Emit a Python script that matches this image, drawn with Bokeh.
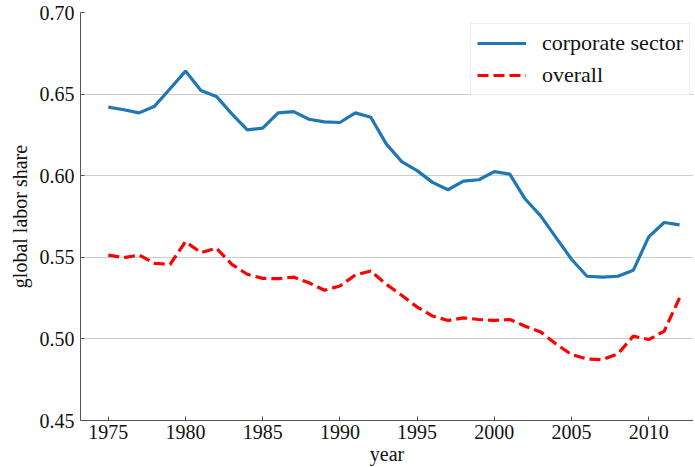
from bokeh.plotting import figure
from bokeh.models import Legend, LegendItem, FixedTicker, Range1d
from bokeh.embed import file_html
from bokeh.resources import INLINE

years = list(range(1975, 2013))
corporate = [0.642, 0.6404, 0.6385, 0.6426, 0.6533, 0.6641, 0.6522, 0.6486, 0.6379, 0.6281,
             0.6291, 0.6385, 0.6393, 0.6346, 0.6330, 0.6326, 0.6385, 0.6358, 0.6195, 0.6086,
             0.6031, 0.5959, 0.5914, 0.5967, 0.5975, 0.6025, 0.6010, 0.5857, 0.5754, 0.5621,
             0.5488, 0.5384, 0.5379, 0.5384, 0.5420, 0.5625, 0.5713, 0.5699]
overall = [0.5513, 0.5498, 0.5514, 0.5463, 0.5457, 0.5596, 0.5529, 0.5556, 0.5457, 0.5396,
           0.5371, 0.5369, 0.5379, 0.5344, 0.5298, 0.5324, 0.5392, 0.5416, 0.5335, 0.5267,
           0.5195, 0.5140, 0.5113, 0.5129, 0.5119, 0.5113, 0.5119, 0.5078, 0.5043, 0.4969,
           0.4904, 0.4877, 0.4873, 0.4908, 0.5017, 0.4996, 0.5047, 0.5252]
x_ticks = [1975, 1980, 1985, 1990, 1995, 2000, 2005, 2010]
y_ticks = [0.45, 0.50, 0.55, 0.60, 0.65, 0.70]

FONT = "Liberation Serif"

p = figure(width=693, height=467, output_backend="svg", toolbar_location=None,
           x_range=Range1d(1973.2, 2012.9), y_range=Range1d(0.45, 0.70),
           min_border_left=80, min_border_right=0, min_border_top=12, min_border_bottom=40)
p.outline_line_color = None

r1 = p.line(years, corporate, line_color="#1f77b4", line_width=3.2)
r2 = p.line(years, overall, line_color="#ff0000", line_width=3.2, line_dash="11 5")

p.xgrid.grid_line_color = None
p.ygrid.grid_line_color = "#cccccc"
p.ygrid.grid_line_width = 1

for ax in (p.xaxis[0], p.yaxis[0]):
    ax.axis_line_color = "#555555"
    ax.major_tick_line_color = "#555555"
    ax.major_tick_in = 4
    ax.major_tick_out = 0
    ax.minor_tick_line_color = None
    ax.major_label_text_font = FONT
    ax.major_label_text_font_size = "20px"
    ax.major_label_text_color = "#111111"
    ax.axis_label_text_font = FONT
    ax.axis_label_text_font_size = "20px"
    ax.axis_label_text_font_style = "normal"
    ax.axis_label_text_color = "#111111"

p.xaxis.ticker = FixedTicker(ticks=x_ticks)
p.yaxis.ticker = FixedTicker(ticks=y_ticks)
p.yaxis.major_label_overrides = {v: f"{v:.2f}" for v in y_ticks}
p.xaxis.axis_label = "year"
p.yaxis.axis_label = "global labor share"
p.xaxis.major_label_standoff = 4
p.xaxis.axis_label_standoff = 1
p.yaxis.major_label_standoff = 6
p.yaxis.axis_label_standoff = 6

legend = Legend(items=[LegendItem(label="corporate sector", renderers=[r1]),
                       LegendItem(label="overall", renderers=[r2])],
                location=(390, 325))
legend.label_text_font = FONT
legend.label_text_font_size = "22px"
legend.label_text_color = "#111111"
legend.glyph_width = 49
legend.glyph_height = 26
legend.label_height = 26
legend.label_standoff = 16
legend.padding = 6
legend.spacing = 6
legend.margin = 0
legend.border_line_color = "#dddddd"
legend.border_line_width = 1
legend.background_fill_alpha = 0.9
p.add_layout(legend, "center")

open("out.html", "w").write(file_html(p, INLINE))
